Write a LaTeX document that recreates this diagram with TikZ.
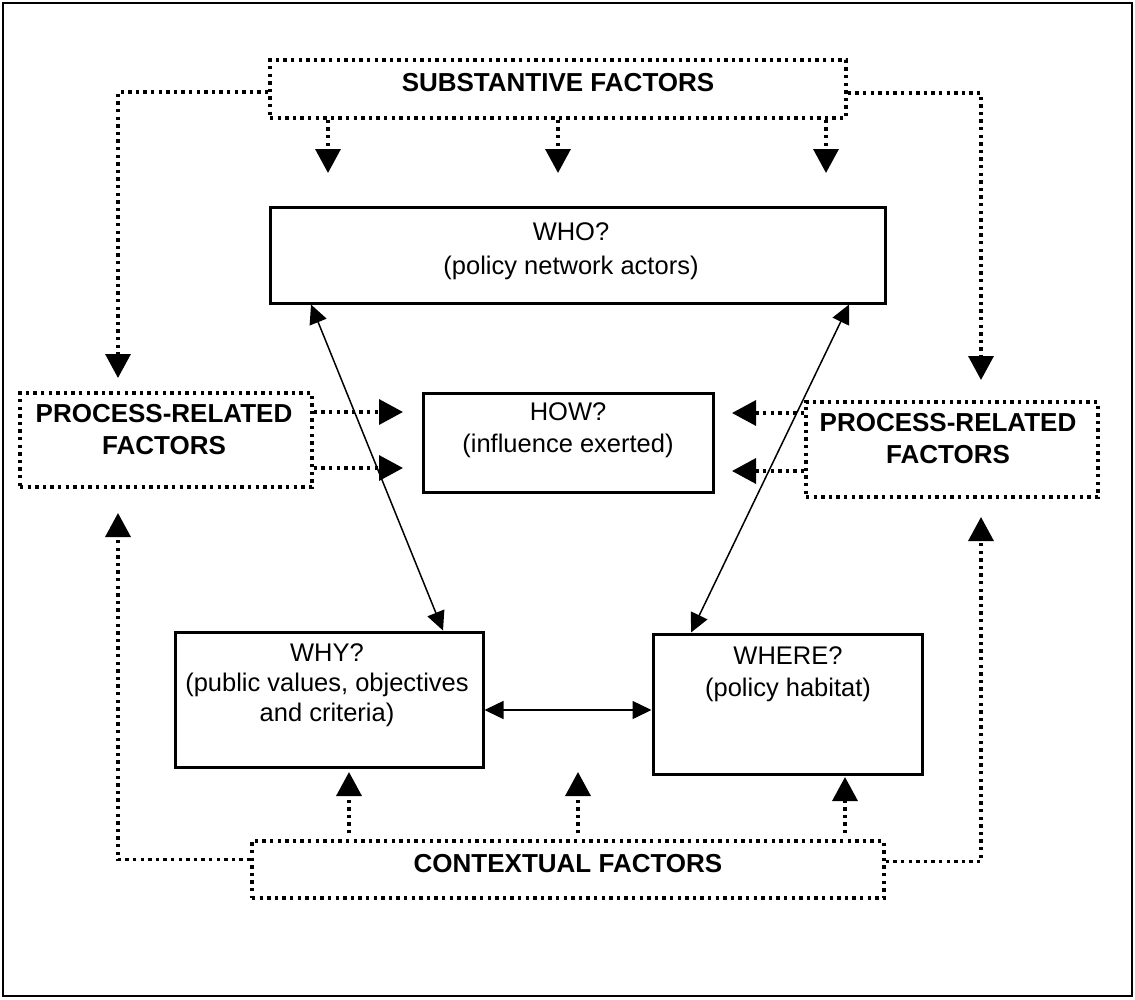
\documentclass[tikz,border=0pt]{standalone}
\usepackage{fontspec}
\setmainfont{Liberation Sans}
\usetikzlibrary{arrows.meta}

\begin{document}
\begin{tikzpicture}[x=1pt, y=-1pt,
  solidbox/.style={draw, line width=3pt, inner sep=0pt},
  dotbox/.style={draw, line width=3.4pt, line cap=butt, dash pattern=on 3.4pt off 4.2pt, inner sep=0pt},
  dotarrow/.style={line width=3.4pt, line cap=butt, dash pattern=on 3.4pt off 4.2pt,
    -{Triangle[length=24pt, width=25pt]}},
  twoway/.style={line width=1.5pt,
    {Triangle[length=19pt, width=18pt]}-{Triangle[length=19pt, width=18pt]}},
  plain/.style={inner sep=0pt, align=center, font=\fontsize{25.5}{32}\selectfont},
  heavy/.style={inner sep=0pt, align=center, font=\fontsize{26}{32}\selectfont\bfseries}
]
\useasboundingbox (0,0) rectangle (1135,999);
\draw[line width=2pt] (3,3) rectangle (1132,996);

% factor boxes (dotted)
\node[dotbox, minimum width=576pt, minimum height=58pt] (subst) at (558,89) {};
\node[dotbox, minimum width=632pt, minimum height=57pt] (ctx) at (568,869.5) {};
\node[dotbox, minimum width=292pt, minimum height=94pt] (lproc) at (166,440) {};
\node[dotbox, minimum width=292pt, minimum height=95pt] (rproc) at (952,449.5) {};

\node[heavy] (substtxt) at (558,83) {SUBSTANTIVE FACTORS};
\node[heavy] (ctxtxt) at (568,864) {CONTEXTUAL FACTORS};
\node[heavy] (lproctxt) at (164,430) {PROCESS-RELATED\\FACTORS};
\node[heavy] (rproctxt) at (948,439) {PROCESS-RELATED\\FACTORS};

% question boxes (solid)
\node[solidbox, minimum width=615pt, minimum height=96pt] (who) at (577.5,255) {};
\node[solidbox, minimum width=290pt, minimum height=99pt] (how) at (568,442.5) {};
\node[solidbox, minimum width=308pt, minimum height=135pt] (why) at (329,699.5) {};
\node[solidbox, minimum width=269pt, minimum height=140pt] (where) at (787.5,704) {};

\node[plain, anchor=north, font=\fontsize{25.5}{34}\selectfont] (whotxt) at (571,222) {WHO?\\(policy network actors)};
\node[plain, anchor=north] (howtxt) at (568,402) {HOW?\\(influence exerted)};
\node[plain, anchor=north, font=\fontsize{25.5}{30}\selectfont] (whytxt) at (327,643) {WHY?\\(public values, objectives\\and criteria)};
\node[plain, anchor=north] (wheretxt) at (788,646) {WHERE?\\(policy habitat)};

% arrow tips of the dotted connectors
\coordinate (sA) at (328,173);
\coordinate (sB) at (558,173);
\coordinate (sC) at (826,173);
\coordinate (cA) at (349,772);
\coordinate (cB) at (578,772);
\coordinate (cC) at (845,777);
\coordinate (lDown) at (118,378);
\coordinate (lUp) at (118,513);
\coordinate (rDown) at (981,380);
\coordinate (rUp) at (981,517);
\coordinate (hA) at (403,412);
\coordinate (hB) at (403,468);
\coordinate (hC) at (732,413);
\coordinate (hD) at (732,471);

% substantive factors feeding down
\draw[dotarrow] (subst.south -| sA) -- (sA);
\draw[dotarrow] (subst.south -| sB) -- (sB);
\draw[dotarrow] (subst.south -| sC) -- (sC);
\draw[dotarrow] ([yshift=-3pt]subst.west) -| (lDown);
\draw[dotarrow] ([yshift=-4pt]subst.east) -| (rDown);

% contextual factors feeding up
\draw[dotarrow, shorten <=6pt] (ctx.north -| cA) -- (cA);
\draw[dotarrow, shorten <=6pt] (ctx.north -| cB) -- (cB);
\draw[dotarrow, shorten <=6pt] (ctx.north -| cC) -- (cC);
\draw[dotarrow] ([yshift=10pt]ctx.west) -| (lUp);
\draw[dotarrow] ([yshift=8pt]ctx.east) -| (rUp);

% process-related factors into HOW
\draw[dotarrow] (lproc.east |- hA) -- (hA);
\draw[dotarrow] (lproc.east |- hB) -- (hB);
\draw[dotarrow] (rproc.west |- hC) -- (hC);
\draw[dotarrow] (rproc.west |- hD) -- (hD);

% two-way links between the questions
\draw[twoway] (who.south -| 311,0) -- (why.north -| 443,0);
\draw[twoway] (who.south -| 849,0) -- (where.north -| 691,0);
\draw[twoway] (why.east |- 0,710) -- (where.west |- 0,710);
\end{tikzpicture}
\end{document}
